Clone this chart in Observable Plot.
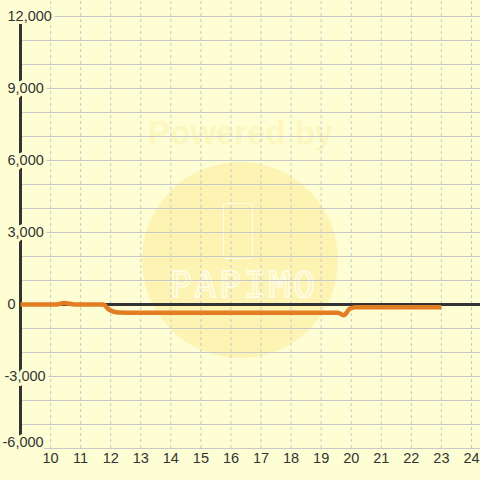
<!DOCTYPE html>
<html>
<head>
<meta charset="utf-8">
<script src="https://cdn.jsdelivr.net/npm/d3@7"></script>
<script src="https://cdn.jsdelivr.net/npm/@observablehq/plot@0.6"></script>
<style>
  html, body { margin: 0; padding: 0; background: #fefed4; }
  #wrap { position: relative; width: 480px; height: 480px; overflow: hidden; background: #fefed4; }
  #wm-circle { position: absolute; left: 142px; top: 162px; width: 196px; height: 196px; border-radius: 50%; background: rgba(252, 232, 140, 0.45); }
  #wm-text { position: absolute; left: 148px; top: 114px; font: bold 33px "Liberation Sans", Arial, sans-serif; color: rgba(250, 228, 140, 0.3); white-space: nowrap; }
  #wm-logo { position: absolute; left: 170px; top: 264px; font: 36px "DejaVu Sans Mono", monospace; letter-spacing: 3px; color: transparent; -webkit-text-stroke: 1.5px rgba(255,255,245,0.85); white-space: nowrap; }
  #wm-phone { position: absolute; left: 223px; top: 203px; width: 28px; height: 54px; border: 1.5px solid rgba(255,255,245,0.8); border-radius: 2px; }
  #chart { position: absolute; left: 0; top: 0; }
</style>
</head>
<body>
<div id="wrap">
  <div id="wm-circle"></div>
  <div id="wm-text">Powered by</div>
  <div id="wm-phone"></div>
  <div id="wm-logo">PAPIMO</div>
  <div id="chart"></div>
</div>
<script>
// Data
const times  = [9, 10.2, 10.45, 10.8, 11.75, 11.95, 12.25, 13, 14, 15, 16, 17, 18, 19, 19.55, 19.75, 19.95, 20.15, 21, 22, 23];
const values = [0, 0, 60, 0, 0, -220, -330, -340, -340, -340, -340, -340, -340, -340, -340, -450, -180, -110, -110, -110, -110];

const xTicks = [10, 11, 12, 13, 14, 15, 16, 17, 18, 19, 20, 21, 22, 23, 24];
const yTickLabels = [-6000, -3000, 0, 3000, 6000, 9000, 12000];
const yGrid = [-6000, -5000, -4000, -3000, -2000, -1000, 1000, 2000, 3000, 4000, 5000, 6000, 7000, 8000, 9000, 10000, 11000, 12000];

const series = times.map((t, i) => ({t, v: values[i]}));
const fmt = d => d.toLocaleString("en-US");
const BG = "#fefed4";
const INK = "#333333";

const labelOpts = (extra) => Object.assign({
  x: () => 9,
  y: d => d,
  text: d => fmt(d),
  textAnchor: "start",
  fill: INK,
  fontSize: 14.5,
  stroke: BG,
  strokeWidth: 6
}, extra);

const chart = Plot.plot({
  width: 480,
  height: 480,
  marginLeft: 20,
  marginRight: 0,
  marginTop: 16,
  marginBottom: 32,
  style: { background: "transparent", fontFamily: "'Liberation Sans', Arial, sans-serif" },
  x: { domain: [9, 24.3], axis: null },
  y: { domain: [-6000, 12000], axis: null },
  marks: [
    Plot.ruleY(yGrid, { stroke: "#c8c8c8", strokeWidth: 1.2 }),
    Plot.ruleX(xTicks, { y1: -6000, y2: 12667, stroke: "#c8c8c8", strokeWidth: 1, strokeDasharray: "3,3" }),
    Plot.ruleX([9], { y1: -6000, y2: 12000, stroke: INK, strokeWidth: 3 }),
    Plot.text(yTickLabels.filter(d => d >= 0), labelOpts({ dx: -13 })),
    Plot.text([-3000], labelOpts({ dx: -16 })),
    Plot.text([-6000], labelOpts({ dx: -18, dy: -6 })),
    Plot.ruleY([0], { stroke: INK, strokeWidth: 3 }),
    Plot.line(series, { x: "t", y: "v", stroke: "#e27d22", strokeWidth: 4.5, curve: "monotone-x", strokeLinecap: "butt" }),
    Plot.text(xTicks, { x: d => d, frameAnchor: "bottom", dy: 14, text: d => String(d), fill: INK, fontSize: 14.5 })
  ]
});

document.getElementById("chart").appendChild(chart);
</script>
</body>
</html>
